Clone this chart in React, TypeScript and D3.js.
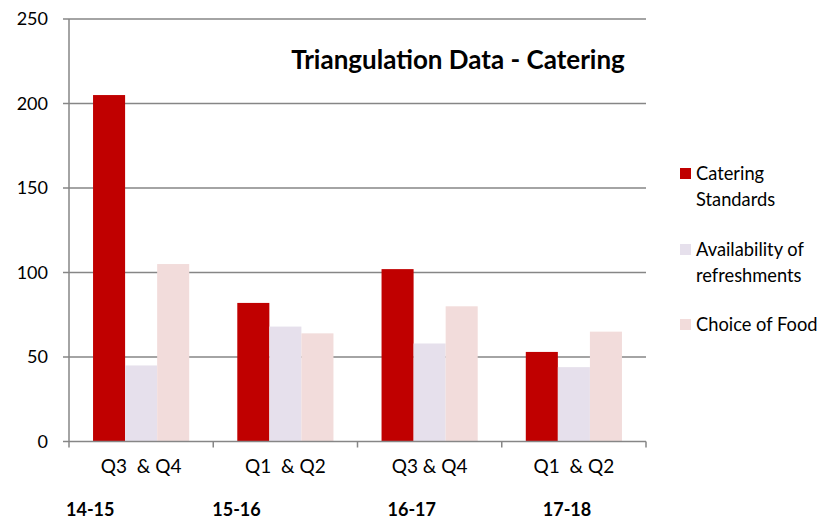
import React from 'react';
import * as d3 from 'd3';

const quarters = ['Q3  & Q4', 'Q1  & Q2', 'Q3 & Q4', 'Q1  & Q2'];
const years = ['14-15', '15-16', '16-17', '17-18'];
const yearOffsets = [-3, -1, 30, 41]; // left edge relative to band start
const seriesNames = ['Catering Standards', 'Availability of refreshments', 'Choice of Food'];
const legendLines = [['Catering', 'Standards'], ['Availability of', 'refreshments'], ['Choice of Food']];
const cateringStandards = [205, 82, 102, 53];
const availability = [45, 68, 58, 44];
const choiceOfFood = [105, 64, 80, 65];
const yTicks = [0, 50, 100, 150, 200, 250];
const colors = ['#C00000', '#E6E0EC', '#F2DCDB'];

const FONT = 'Lato, "Open Sans", sans-serif';

export default function App() {
  const width = 826, height = 519;
  const left = 69, right = 646, top = 19, bottom = 441.5;

  const x = d3.scaleBand<number>().domain(d3.range(quarters.length)).range([left, right]);
  const inner = d3.scaleBand<number>()
    .domain(d3.range(seriesNames.length))
    .range([0, x.bandwidth()])
    .paddingOuter(0.75)
    .paddingInner(0);
  const y = d3.scaleLinear().domain([0, 250]).range([bottom, top]);

  const series = [cateringStandards, availability, choiceOfFood];
  const grey = '#868686';

  return (
    <svg width={width} height={height} style={{ display: 'block', margin: '-8px -8px 0 -8px' }} fontFamily={FONT}>
      <rect width={width} height={height} fill="#fff" />
      {yTicks.map((t) => (
        <g key={t}>
          {t > 0 && <line x1={left} x2={right} y1={y(t)} y2={y(t)} stroke={grey} strokeWidth={1.5} />}
          <line x1={left - 6} x2={left} y1={y(t)} y2={y(t)} stroke={grey} strokeWidth={1.5} />
          <text x={48} y={y(t)} dy="0.35em" textAnchor="end" fontSize={18} fill="#000">{t}</text>
        </g>
      ))}
      {series.map((vals, s) =>
        vals.map((v, i) => (
          <rect key={`${s}-${i}`} x={(x(i) ?? 0) + (inner(s) ?? 0)} y={y(v)}
            width={inner.bandwidth()} height={y(0) - y(v)} fill={colors[s]} />
        ))
      )}
      <line x1={left} x2={left} y1={top} y2={bottom} stroke={grey} strokeWidth={1.5} />
      <line x1={left} x2={right} y1={bottom} y2={bottom} stroke={grey} strokeWidth={1.5} />
      {d3.range(quarters.length + 1).map((i) => {
        const xx = i < quarters.length ? (x(i) ?? 0) : right;
        return <line key={i} x1={xx} x2={xx} y1={bottom} y2={bottom + 6} stroke={grey} strokeWidth={1.5} />;
      })}
      {quarters.map((q, i) => (
        <text key={i} x={(x(i) ?? 0) + x.bandwidth() / 2} y={466} dy="0.35em" textAnchor="middle"
          fontSize={19} fill="#000" style={{ whiteSpace: 'pre' }}>{q}</text>
      ))}
      {years.map((yr, i) => (
        <text key={yr} x={(x(i) ?? 0) + yearOffsets[i]} y={510} dy="0.35em" fontSize={18}
          fontWeight="bold" fill="#000">{yr}</text>
      ))}
      <text x={458} y={60} dy="0.35em" textAnchor="middle" fontSize={26} fontWeight="bold" fill="#000">
        Triangulation Data - Catering
      </text>
      {legendLines.map((lines, s) => {
        const ly = [174, 250, 325][s];
        return (
          <g key={s}>
            <rect x={680} y={ly - 6} width={11} height={11} fill={colors[s]} />
            {lines.map((ln, k) => (
              <text key={k} x={696} y={ly + k * 25.5} dy="0.35em" fontSize={18.3} fill="#000">{ln}</text>
            ))}
          </g>
        );
      })}
    </svg>
  );
}
